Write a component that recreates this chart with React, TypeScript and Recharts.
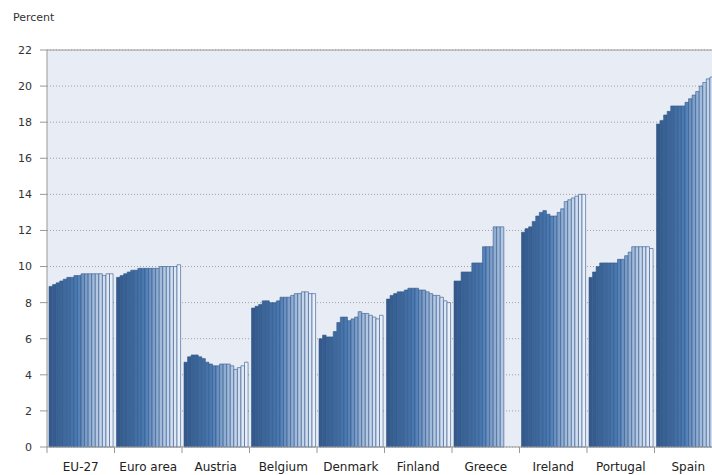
import { BarChart, Bar, XAxis, YAxis, CartesianGrid, ReferenceLine } from 'recharts';

// unemployment rate, monthly, 18 months per country
const countries = ['EU-27', 'Euro area', 'Austria', 'Belgium', 'Denmark', 'Finland', 'Greece', 'Ireland', 'Portugal', 'Spain'];

const eu27 = [8.9, 9.0, 9.1, 9.2, 9.3, 9.4, 9.4, 9.5, 9.5, 9.6, 9.6, 9.6, 9.6, 9.6, 9.6, 9.5, 9.6, 9.6];
const euroArea = [9.4, 9.5, 9.6, 9.7, 9.8, 9.8, 9.9, 9.9, 9.9, 9.9, 9.9, 9.9, 10.0, 10.0, 10.0, 10.0, 10.0, 10.1];
const austria = [4.7, 5.0, 5.1, 5.1, 5.0, 4.9, 4.7, 4.6, 4.5, 4.5, 4.6, 4.6, 4.6, 4.5, 4.3, 4.4, 4.5, 4.7];
const belgium = [7.7, 7.8, 7.9, 8.1, 8.1, 8.0, 8.0, 8.1, 8.3, 8.3, 8.3, 8.4, 8.5, 8.5, 8.6, 8.6, 8.5, 8.5];
const denmark = [6.0, 6.2, 6.1, 6.1, 6.4, 6.9, 7.2, 7.2, 7.0, 7.1, 7.2, 7.5, 7.4, 7.4, 7.3, 7.2, 7.1, 7.3];
const finland = [8.2, 8.4, 8.5, 8.6, 8.6, 8.7, 8.8, 8.8, 8.8, 8.7, 8.7, 8.6, 8.5, 8.4, 8.4, 8.3, 8.1, 8.0];
const greece = [9.2, 9.2, 9.7, 9.7, 9.7, 10.2, 10.2, 10.2, 11.1, 11.1, 11.1, 12.2, 12.2, 12.2, null, null, null, null];
const ireland = [11.9, 12.1, 12.2, 12.5, 12.8, 13.0, 13.1, 12.9, 12.8, 12.8, 13.0, 13.2, 13.6, 13.7, 13.8, 13.9, 14.0, 14.0];
const portugal = [9.4, 9.7, 10.0, 10.2, 10.2, 10.2, 10.2, 10.2, 10.4, 10.4, 10.6, 10.8, 11.1, 11.1, 11.1, 11.1, 11.1, 11.0];
const spain = [17.9, 18.1, 18.4, 18.6, 18.9, 18.9, 18.9, 18.9, 19.1, 19.3, 19.5, 19.7, 20.0, 20.2, 20.4, 20.5, 20.5, 20.6];

const values = [eu27, euroArea, austria, belgium, denmark, finland, greece, ireland, portugal, spain];
const months = Array.from({ length: 18 }, (_, i) => `m${i + 1}`);
const yTicks = [0, 2, 4, 6, 8, 10, 12, 14, 16, 18, 20, 22];

const colors = [
  '#34598a', '#365d90', '#386194', '#3b6598', '#3e699d', '#416ea3', '#4573aa', '#4a79b0', '#5582b8',
  '#6b91c1', '#7f9fc9', '#91add2', '#a3bbda', '#b4c8e2', '#c4d4ea', '#d2def0', '#dfe7f5', '#eaf0f9',
];

const data = countries.map((name, c) => {
  const row: Record<string, any> = { name };
  months.forEach((m, i) => { row[m] = values[c][i]; });
  return row;
});

const BAND = 67.5;

const CountryTick = (props: any) => {
  const { x, y, payload, index } = props;
  return (
    <g>
      <line x1={x - BAND / 2} x2={x - BAND / 2} y1={y - 6} y2={y} stroke="#999" />
      {index === countries.length - 1 && <line x1={x + BAND / 2} x2={x + BAND / 2} y1={y - 6} y2={y} stroke="#999" />}
      <text x={x} y={y + 18} textAnchor="middle" fontSize={12} fontFamily="DejaVu Sans" fill="#222">{payload.value}</text>
    </g>
  );
};

export default function App() {
  return (
    <div style={{ position: 'absolute', left: 0, top: 0, width: 712, height: 475, overflow: 'hidden', background: '#fff' }}>
      <div style={{ position: 'absolute', left: 13, top: 11, font: '11px "DejaVu Sans"', color: '#333' }}>Percent</div>
      <BarChart width={730} height={500} data={data} margin={{ top: 50, right: 8, left: 7, bottom: 0 }} barGap={0} barCategoryGap={1.7}>
        <CartesianGrid vertical={false} fill="#e8edf5" stroke="#a0a0a0" strokeDasharray="1 2" />
        <XAxis dataKey="name" height={53} interval={0} tickSize={6} tickMargin={0} tickLine={false} axisLine={{ stroke: '#999' }} tick={<CountryTick />} />
        <YAxis width={40} domain={[0, 22]} ticks={yTicks} interval={0} tickSize={7} tickMargin={8} axisLine={{ stroke: '#999' }} tickLine={{ stroke: '#999' }} tick={{ fontSize: 11, fontFamily: 'DejaVu Sans', fill: '#333' }} />
        <ReferenceLine y={22} stroke="#999" />
        {months.map((m, i) => (
          <Bar key={m} dataKey={m} fill={colors[i]} stroke="#33598b" strokeWidth={0.6} barSize={3.56} isAnimationActive={false} />
        ))}
      </BarChart>
    </div>
  );
}
